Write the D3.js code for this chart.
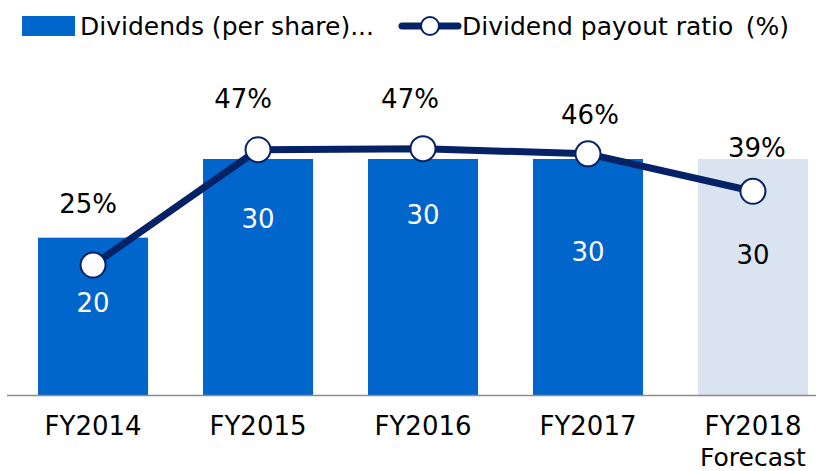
<!DOCTYPE html>
<meta charset="utf-8">
<style>
body { margin: 0; background: #fff; }
text { font-family: "DejaVu Sans", sans-serif; }
</style>
<svg width="816" height="471"></svg>
<script src="https://cdn.jsdelivr.net/npm/d3@7"></script>
<script>

var categories = ["FY2014", "FY2015", "FY2016", "FY2017", "FY2018"];
var subLabels = ["", "", "", "", "Forecast"];
var dividends = [20, 30, 30, 30, 30];
var payout = [25, 47.2, 47.4, 46.4, 39.2];
var payoutLabels = ["25%", "47%", "47%", "46%", "39%"];
var forecast = [false, false, false, false, true];

// hand-placed label nudges (like the original Excel labels)
var pctNudge = [[-5, -61], [-15, -51], [-13, -50], [2, -39], [4, -43]];
var barNudge = [65, 60, 56, 93, 96];

var svg = d3.select("svg"),
    width = +svg.attr("width"),
    height = +svg.attr("height");

var baseY = 395;

var x = d3.scaleBand()
    .domain(categories)
    .range([10, 836])
    .paddingInner(0.333)
    .paddingOuter(0.17);

var y = d3.scaleLinear()
    .domain([0, 30])
    .range([baseY, 159]);

var y2 = d3.scaleLinear()
    .domain([0, 76])
    .range([baseY, 0]);

var data = categories.map(function(c, i) {
  return { cat: c, sub: subLabels[i], div: dividends[i], pay: payout[i],
           pl: payoutLabels[i], fc: forecast[i], i: i };
});

// bars
svg.selectAll("rect.bar").data(data).enter().append("rect")
  .attr("class", "bar")
  .attr("x", function(d) { return x(d.cat); })
  .attr("width", x.bandwidth())
  .attr("y", function(d) { return y(d.div); })
  .attr("height", function(d) { return baseY - y(d.div); })
  .attr("fill", function(d) { return d.fc ? "#dae3f0" : "#0066cc"; });

// axis line
svg.append("line")
  .attr("x1", 7).attr("x2", width)
  .attr("y1", baseY + 0.5).attr("y2", baseY + 0.5)
  .attr("stroke", "#8c8c8c").attr("stroke-width", 1.5);

// bar value labels
svg.selectAll("text.val").data(data).enter().append("text")
  .attr("class", "val")
  .attr("x", function(d) { return x(d.cat) + x.bandwidth() / 2; })
  .attr("y", function(d) { return y(d.div) + barNudge[d.i]; })
  .attr("text-anchor", "middle")
  .attr("dominant-baseline", "central")
  .attr("font-size", "26px")
  .attr("fill", function(d) { return d.fc ? "#000" : "#fff"; })
  .text(function(d) { return d.div; });

// payout line
var cx = function(d) { return x(d.cat) + x.bandwidth() / 2; };

svg.append("path")
  .datum(data)
  .attr("fill", "none")
  .attr("stroke", "#062266")
  .attr("stroke-width", 7)
  .attr("stroke-linejoin", "round")
  .attr("d", d3.line().x(cx).y(function(d) { return y2(d.pay); }));

svg.selectAll("circle.pt").data(data).enter().append("circle")
  .attr("class", "pt")
  .attr("cx", cx)
  .attr("cy", function(d) { return y2(d.pay); })
  .attr("r", 12.5)
  .attr("fill", "#fff")
  .attr("stroke", "#062266")
  .attr("stroke-width", 2);

svg.selectAll("text.pct").data(data).enter().append("text")
  .attr("class", "pct")
  .attr("x", function(d) { return cx(d) + pctNudge[d.i][0]; })
  .attr("y", function(d) { return y2(d.pay) + pctNudge[d.i][1]; })
  .attr("text-anchor", "middle")
  .attr("dominant-baseline", "central")
  .attr("font-size", "26px")
  .attr("fill", "#000")
  .text(function(d) { return d.pl; });

// category labels
var ticks = svg.selectAll("g.tick").data(data).enter().append("g")
  .attr("class", "tick")
  .attr("transform", function(d) { return "translate(" + cx(d) + ",0)"; });

ticks.append("text")
  .attr("y", 435)
  .attr("text-anchor", "middle")
  .attr("font-size", "26px")
  .text(function(d) { return d.cat; });

ticks.append("text")
  .attr("y", 466)
  .attr("text-anchor", "middle")
  .attr("font-size", "25px")
  .text(function(d) { return d.sub; });

// legend
var legend = svg.append("g").attr("class", "legend");

legend.append("rect")
  .attr("x", 22).attr("y", 16)
  .attr("width", 53).attr("height", 20)
  .attr("fill", "#0066cc");

legend.append("text")
  .attr("x", 80).attr("y", 35)
  .attr("font-size", "25px")
  .text("Dividends (per share)...");

legend.append("line")
  .attr("x1", 402).attr("x2", 458)
  .attr("y1", 26).attr("y2", 26)
  .attr("stroke", "#062266").attr("stroke-width", 7)
  .attr("stroke-linecap", "round");

legend.append("circle")
  .attr("cx", 430).attr("cy", 26).attr("r", 9)
  .attr("fill", "#fff").attr("stroke", "#062266").attr("stroke-width", 2);

legend.append("text")
  .attr("x", 462).attr("y", 35)
  .attr("font-size", "25px")
  .text("Dividend payout ratio\u2002(%)");

</script>
